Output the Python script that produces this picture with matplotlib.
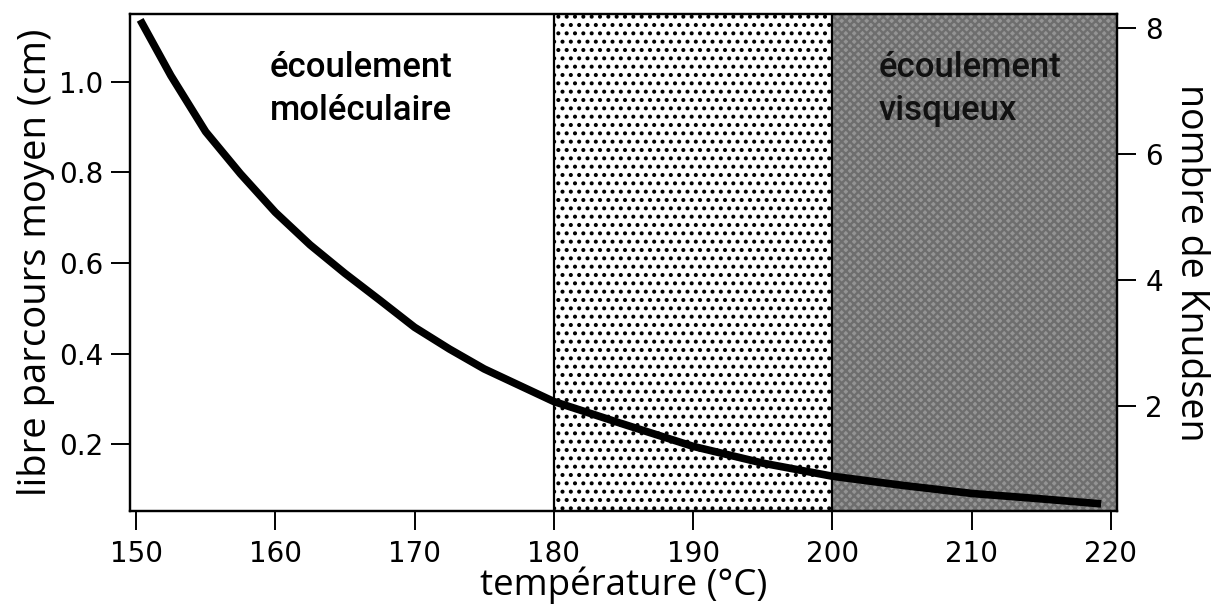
import numpy as np
import matplotlib
matplotlib.use('Agg')
import matplotlib.pyplot as plt

# mean free path (temperature in deg C, path in cm)
temperature = [150.3, 152.5, 155.0, 157.5, 160.0, 162.5, 165.0, 167.5, 170.0, 172.5, 175.0,
               177.5, 180.0, 185.0, 190.0, 195.0, 200.0, 205.0, 210.0, 215.0, 219.3]
libre_parcours = [1.137, 1.014, 0.890, 0.797, 0.712, 0.640, 0.577, 0.518, 0.458, 0.410, 0.366,
                  0.330, 0.294, 0.244, 0.195, 0.158, 0.129, 0.109, 0.091, 0.079, 0.068]

x_ticks = [150, 160, 170, 180, 190, 200, 210, 220]
left_ticks = [0.2, 0.4, 0.6, 0.8, 1.0]
right_ticks = [2, 4, 6, 8]

# flow regimes
limite_moleculaire = 180
limite_visqueux = 200
x_lim = (149.57, 220.43)

plt.rcParams['font.family'] = ['Open Sans', 'DejaVu Sans']
plt.rcParams['hatch.linewidth'] = 1.7

fig = plt.figure(figsize=(12.22, 6.07), dpi=100)
ax = fig.add_axes([0.1064, 0.158, 0.8076, 0.819])

# dotted transition zone and grey viscous zone
ax.axvspan(limite_moleculaire, limite_visqueux, facecolor='white', edgecolor='black',
           hatch='..', linewidth=0, zorder=1)
ax.axvspan(limite_visqueux, x_lim[1], facecolor='#949494', edgecolor='#6e6e6e',
           hatch='xxxx', linewidth=0, zorder=1)
ax.axvline(limite_moleculaire, color='black', lw=1.6, zorder=2)
ax.axvline(limite_visqueux, color='black', lw=1.6, zorder=2)

ax.plot(temperature, libre_parcours, color='black', lw=5.5, solid_capstyle='butt', zorder=3)

ax.set_xlim(*x_lim)
ax.set_ylim(0.052, 1.150)
ax.set_xticks(x_ticks)
ax.set_yticks(left_ticks)
ax.set_xticklabels([str(t) for t in x_ticks])
ax.set_yticklabels([f"{t:.1f}" for t in left_ticks])

ax.text(159.6, 1.068, "écoulement\nmoléculaire", fontsize=25, family=['Roboto', 'DejaVu Sans'],
        fontweight='medium', va='top', ha='left', linespacing=1.38, zorder=4)
ax.text(203.3, 1.068, "écoulement\nvisqueux", fontsize=25, family=['Roboto', 'DejaVu Sans'],
        fontweight='medium', va='top', ha='left', linespacing=1.38, color='#111111', zorder=4)

ax.set_xlabel("température (°C)", fontsize=26.5, labelpad=-1)
ax.set_ylabel("libre parcours moyen (cm)", fontsize=27.5, labelpad=3)

ax2 = ax.twinx()
ax2.set_ylim(0.33, 8.22)
ax2.set_yticks(right_ticks)
ax2.set_yticklabels([str(t) for t in right_ticks])
ax2.set_ylabel("nombre de Knudsen", fontsize=27, rotation=270, labelpad=34)

for a in (ax, ax2):
    for s in a.spines.values():
        s.set_linewidth(1.6)
    a.tick_params(direction='out', length=13.5, width=1.4, labelsize=20)
    for lab in a.get_xticklabels() + a.get_yticklabels():
        lab.set_family('DejaVu Sans')
ax.tick_params(axis='x', pad=7)
ax.tick_params(axis='y', pad=6)
ax2.tick_params(axis='y', pad=7)

fig.savefig('out.png', dpi=100)
